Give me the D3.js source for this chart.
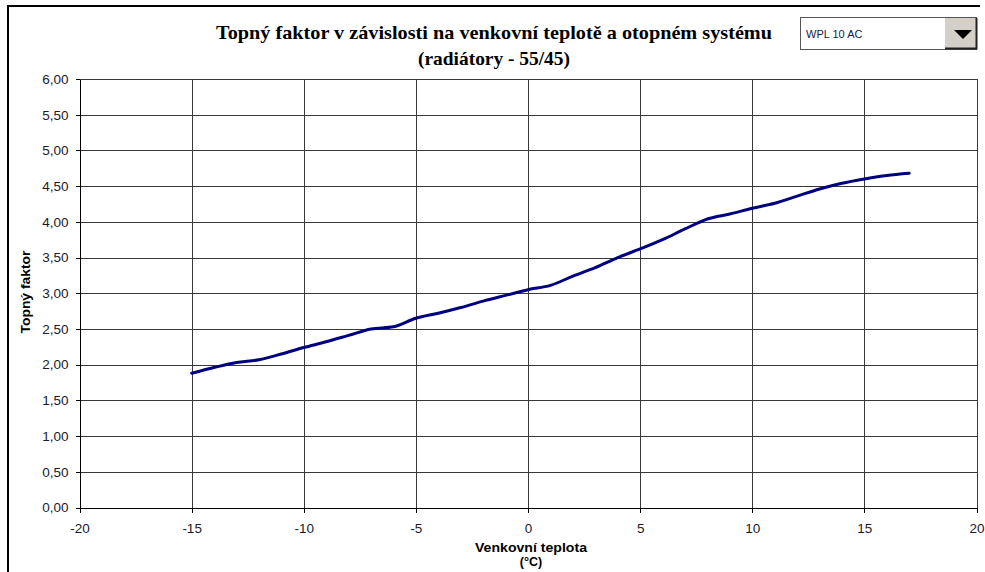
<!DOCTYPE html>
<html>
<head>
<meta charset="utf-8">
<script src="https://cdn.jsdelivr.net/npm/d3@7"></script>
<style>
  html, body { margin: 0; padding: 0; background: #fff; }
  svg { display: block; }
</style>
</head>
<body>
<svg id="chart" width="985" height="572"></svg>
<script>
// Outdoor temperature (°C) and coefficient of performance for radiators 55/45
const temperatures = [-15, -14, -13, -12, -11, -10, -9, -8, -7, -6, -5, -4, -3, -2, -1, 0, 1, 2, 3, 4, 5, 6, 7, 8, 9, 10, 11, 12, 13, 14, 15, 16, 17];
const copValues = [1.88, 1.96, 2.03, 2.07, 2.15, 2.24, 2.32, 2.41, 2.50, 2.53, 2.65, 2.72, 2.80, 2.89, 2.97, 3.05, 3.11, 3.24, 3.36, 3.50, 3.62, 3.75, 3.90, 4.04, 4.11, 4.19, 4.26, 4.36, 4.46, 4.54, 4.60, 4.65, 4.68];
const xTicks = [-20, -15, -10, -5, 0, 5, 10, 15, 20];
const yTicks = [0, 0.5, 1, 1.5, 2, 2.5, 3, 3.5, 4, 4.5, 5, 5.5, 6];
const titleLines = ["Topný faktor v závislosti na venkovní teplotě a otopném systému", "(radiátory - 55/45)"];
const xTitleLines = ["Venkovní teplota", "(°C)"];
const yTitle = "Topný faktor";
const selectedModel = "WPL 10 AC";

const svg = d3.select("#chart");
const plot = { left: 79.5, right: 976.5, top: 79, bottom: 507.5 };
const sans = "Liberation Sans, Arial, sans-serif";

const x = d3.scaleLinear().domain([-20, 20]).range([plot.left, plot.right]);
const y = d3.scaleLinear().domain([0, 6]).range([plot.bottom, plot.top]);

// sheet frame
svg.append("path")
  .attr("d", "M8,572 V6 H980")
  .attr("fill", "none").attr("stroke", "#000").attr("stroke-width", 2);

// gridlines
const grid = svg.append("g").attr("stroke", "#3a3a3a").attr("stroke-width", 1).attr("shape-rendering", "crispEdges");
grid.selectAll("line.h").data(yTicks).join("line")
  .attr("x1", plot.left).attr("x2", plot.right)
  .attr("y1", d => Math.round(y(d)) + 0.5).attr("y2", d => Math.round(y(d)) + 0.5);
grid.selectAll("line.v").data(xTicks).join("line")
  .attr("y1", plot.top).attr("y2", plot.bottom)
  .attr("x1", d => Math.round(x(d)) + 0.5).attr("x2", d => Math.round(x(d)) + 0.5);

// axes (comma decimals, plain hyphen for negatives)
const fmtY = d3.formatLocale({ decimal: ",", thousands: " ", grouping: [3], currency: ["", ""], minus: "-" }).format(".2f");
const fmtX = d3.formatLocale({ decimal: ",", thousands: " ", grouping: [3], currency: ["", ""], minus: "-" }).format("d");
const yAxis = svg.append("g")
  .attr("transform", `translate(${plot.left},0)`)
  .call(d3.axisLeft(y).tickValues(yTicks).tickFormat(fmtY).tickSizeInner(4).tickSizeOuter(0).tickPadding(7));
const xAxis = svg.append("g")
  .attr("transform", `translate(0,${plot.bottom})`)
  .call(d3.axisBottom(x).tickValues(xTicks).tickFormat(fmtX).tickSizeInner(5).tickSizeOuter(0).tickPadding(11));
[yAxis, xAxis].forEach(a => {
  a.select(".domain").attr("stroke", "#000").attr("shape-rendering", "crispEdges");
  a.selectAll(".tick line").attr("stroke", "#000").attr("shape-rendering", "crispEdges");
  a.selectAll("text").attr("fill", "#1a1a2a").attr("font-family", sans).attr("font-size", 13.5);
});

// data line
const line = d3.line()
  .x((d, i) => x(temperatures[i]))
  .y(d => y(d))
  .curve(d3.curveMonotoneX);
svg.append("path")
  .datum(copValues)
  .attr("d", line)
  .attr("fill", "none")
  .attr("stroke", "#000080")
  .attr("stroke-width", 3)
  .attr("stroke-linecap", "round");

// title
const titleWidths = [556, 152];
svg.append("g").selectAll("text").data(titleLines).join("text")
  .attr("x", 494).attr("y", (d, i) => 39 + i * 26)
  .attr("text-anchor", "middle")
  .attr("font-family", "Liberation Serif, Times New Roman, serif")
  .attr("font-weight", "bold").attr("font-size", 19)
  .attr("textLength", (d, i) => titleWidths[i])
  .attr("lengthAdjust", "spacingAndGlyphs")
  .text(d => d);

// axis titles
svg.append("g").selectAll("text").data(xTitleLines).join("text")
  .attr("x", 531).attr("y", (d, i) => 552 + i * 14)
  .attr("text-anchor", "middle")
  .attr("font-family", sans)
  .attr("font-weight", "bold").attr("font-size", 12.5)
  .attr("textLength", (d, i) => i === 0 ? 112 : null)
  .attr("lengthAdjust", "spacingAndGlyphs")
  .text(d => d);
svg.append("text")
  .attr("transform", "translate(30,292) rotate(-90)")
  .attr("text-anchor", "middle")
  .attr("font-family", sans)
  .attr("font-weight", "bold").attr("font-size", 13)
  .attr("textLength", 83)
  .attr("lengthAdjust", "spacingAndGlyphs")
  .text(yTitle);

// model selector
const sel = svg.append("g");
sel.append("rect").attr("x", 800.5).attr("y", 17.5).attr("width", 176).attr("height", 32)
  .attr("fill", "#fff").attr("stroke", "#555").attr("stroke-width", 1);
sel.append("rect").attr("x", 945).attr("y", 18).attr("width", 31).attr("height", 31).attr("fill", "#d4d0c8");
sel.append("path").attr("d", "M945,48.5 H976.5 V18").attr("fill", "none").attr("stroke", "#222").attr("stroke-width", 2);
sel.append("path").attr("d", "M954,30 H972 L963,39 Z").attr("fill", "#000");
sel.append("text").attr("x", 806).attr("y", 38)
  .attr("font-family", sans).attr("font-size", 11)
  .attr("fill", "#1a1a40").text(selectedModel);
</script>
</body>
</html>
